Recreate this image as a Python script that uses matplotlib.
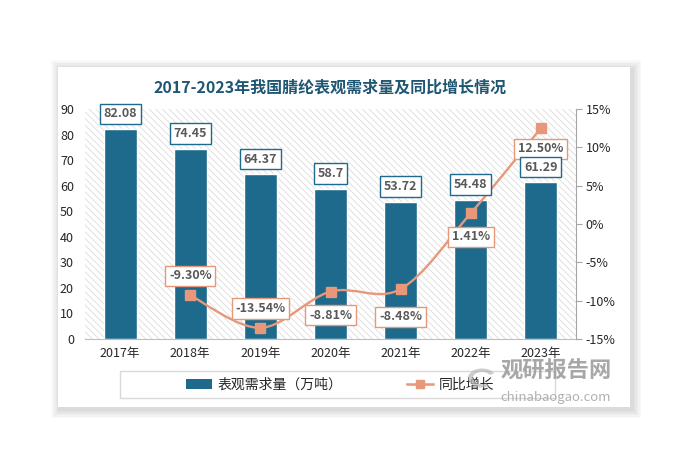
import matplotlib
matplotlib.use("Agg")
import matplotlib.pyplot as plt
from matplotlib.patches import Rectangle, Circle, Wedge
from matplotlib.path import Path
from matplotlib.patches import PathPatch
from matplotlib.lines import Line2D
import numpy as np

plt.rcParams['font.family'] = ['Noto Sans CJK SC', 'DejaVu Sans']
plt.rcParams['hatch.linewidth'] = 0.5
plt.rcParams['hatch.color'] = '#d6d6d6'

years = ['2017年', '2018年', '2019年', '2020年', '2021年', '2022年', '2023年']
demand = [82.08, 74.45, 64.37, 58.7, 53.72, 54.48, 61.29]
demand_labels = ['82.08', '74.45', '64.37', '58.7', '53.72', '54.48', '61.29']
growth = [-9.30, -13.54, -8.81, -8.48, 1.41, 12.50]
growth_labels = ['-9.30%', '-13.54%', '-8.81%', '-8.48%', '1.41%', '12.50%']
growth_years = years[1:]
# label offsets in points (dx, dy) for growth labels
growth_offsets = [(0, 14), (0, 14), (0, -17), (0, -20), (0, -17), (0, -15)]

bar_color = '#1D6A8D'
line_color = '#E8987A'
title_color = '#1F5673'

fig = plt.figure(figsize=(6.82, 4.63), dpi=100)
W, H = 682, 463

# card shadow and card
for i in range(6):
    d = (i + 1) * 1.5
    fig.patches.append(Rectangle(((58 - d + 2) / W, 1 - (407 + d + 2) / H), (572 + 2 * d) / W, (340 + 2 * d) / H,
                                 transform=fig.transFigure, facecolor='black', alpha=0.025, edgecolor='none', zorder=0))
fig.patches.append(Rectangle((58 / W, 1 - 407 / H), 572 / W, 340 / H, transform=fig.transFigure,
                             facecolor='white', edgecolor='none', zorder=1))

ax = fig.add_axes([85 / W, 1 - 339 / H, 491 / W, 230 / H])
ax.set_zorder(2)
ax.patch.set_facecolor('white')
ax.add_patch(Rectangle((0, 0), 1, 1, transform=ax.transAxes, facecolor='none', hatch='\\\\\\\\\\',
                       edgecolor='#d6d6d6', linewidth=0, zorder=0))

x = np.arange(len(years))
ax.bar(x, demand, width=0.47, color=bar_color, edgecolor='white', linewidth=1.0, zorder=2)
ax.set_xlim(-0.5, len(years) - 0.5)
ax.set_ylim(0, 90)
ax.set_yticks(np.arange(0, 91, 10))
ax.set_xticks(x)
ax.set_xticklabels(years)
for s in ['top', 'left', 'right']:
    ax.spines[s].set_visible(False)
ax.spines['bottom'].set_color('#bfbfbf')
ax.tick_params(axis='y', length=0, labelsize=9, labelcolor='#262626', pad=8)
ax.tick_params(axis='x', length=0, labelsize=9, labelcolor='#262626', pad=6)

ax2 = ax.twinx()
ax2.set_ylim(-15, 15)
ax2.set_yticks(np.arange(-15, 16, 5))
ax2.set_yticklabels([f'{v}%' for v in range(-15, 16, 5)])
for s in ['top', 'left', 'bottom']:
    ax2.spines[s].set_visible(False)
ax2.spines['right'].set_color('#a6a6a6')
ax2.tick_params(axis='y', length=4, color='#a6a6a6', labelsize=9, labelcolor='#262626', pad=3)

# smooth line (Catmull-Rom -> Bezier)
gx = np.array([years.index(y) for y in growth_years], dtype=float)
gy = np.array(growth, dtype=float)
pts = np.column_stack([gx, gy])
ext = np.vstack([pts[0], pts, pts[-1]])
verts = [tuple(pts[0])]
codes = [Path.MOVETO]
for i in range(1, len(ext) - 2):
    p0, p1, p2, p3 = ext[i - 1], ext[i], ext[i + 1], ext[i + 2]
    c1 = p1 + (p2 - p0) / 6.0
    c2 = p2 - (p3 - p1) / 6.0
    verts += [tuple(c1), tuple(c2), tuple(p2)]
    codes += [Path.CURVE4] * 3
path = Path(verts, codes)
ax2.add_patch(PathPatch(path, facecolor='none', edgecolor=line_color, linewidth=1.7, zorder=3))
ax2.plot(gx, gy, linestyle='none', marker='s', markersize=6.5, color=line_color, zorder=4)

# growth labels
for xi, yi, lab, (dx, dy) in zip(gx, gy, growth_labels, growth_offsets):
    ax2.annotate(lab, (xi, yi), xytext=(dx, dy), textcoords='offset points', ha='center', va='center',
                 fontsize=9, fontweight='bold', color='#595959', zorder=6,
                 bbox=dict(boxstyle='square,pad=0.3', facecolor='white', edgecolor=line_color, linewidth=1.0))

# bar labels
for xi, v, lab in zip(x, demand, demand_labels):
    ax2.annotate(lab, (xi, v), xycoords=ax.transData, xytext=(0, 11), textcoords='offset points',
                 ha='center', va='center', fontsize=9, fontweight='bold', color='#595959', zorder=6,
                 bbox=dict(boxstyle='square,pad=0.3', facecolor='white', edgecolor=bar_color, linewidth=1.0))

# title
fig.text(330 / W, 1 - 88 / H, '2017-2023年我国腈纶表观需求量及同比增长情况', ha='center', va='center',
         fontsize=11.5, fontweight='bold', color=title_color, zorder=5)

# legend frame
fig.patches.append(Rectangle((120 / W, 1 - 398 / H), 435 / W, 27 / H, transform=fig.transFigure,
                             facecolor='none', edgecolor='#d9d9d9', linewidth=1.0, zorder=3))
handles = [Rectangle((0, 0), 1, 1, facecolor=bar_color, edgecolor='none'),
           Line2D([0], [0], color=line_color, linewidth=1.8, marker='s', markersize=6)]
leg = fig.legend(handles, ['表观需求量（万吨）', '同比增长'], loc='center', bbox_to_anchor=(340 / W, 1 - 385 / H),
                 ncol=2, frameon=False, fontsize=10, columnspacing=4.6, handlelength=1.9, handletextpad=0.4)
for t in leg.get_texts():
    t.set_color('#262626')

# watermark
fig.text(556 / W, 1 - 371 / H, '观研报告网', ha='center', va='center', fontsize=16, fontweight='bold',
         color='#9e9e9e', alpha=0.9, zorder=6)
fig.text(556 / W, 1 - 397 / H, 'chinabaogao.com', ha='center', va='center', fontsize=9.5,
         color='#a8a8a8', alpha=0.9, zorder=6)
fig.patches.append(Wedge((482 / W, 1 - 378 / H), 14 / W, 30, 300, width=5 / W, transform=fig.transFigure,
                         facecolor='#b8b8b8', edgecolor='none', alpha=0.7, zorder=6))

fig.savefig('out.png', dpi=100)
